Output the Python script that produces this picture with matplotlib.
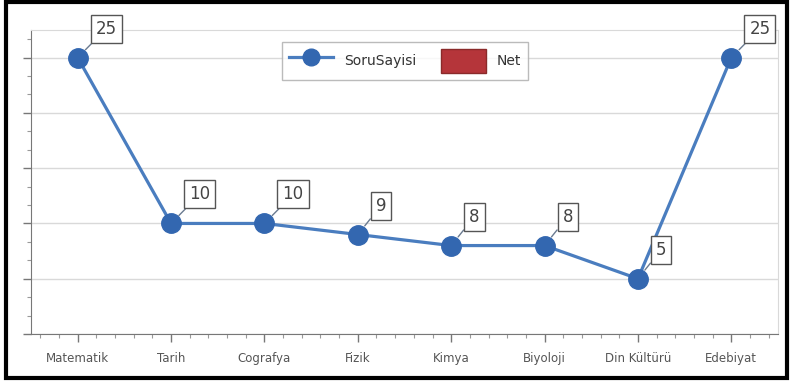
import matplotlib.pyplot as plt
from matplotlib.lines import Line2D
from matplotlib.patches import Patch, Rectangle
from matplotlib.ticker import MultipleLocator

# ders isimleri ve soru sayilari
dersler = ['Matematik', 'Tarih', 'Cografya', 'Fizik', 'Kimya', 'Biyoloji', 'Din Kültürü', 'Edebiyat']
soru_sayisi = [25, 10, 10, 9, 8, 8, 5, 25]

line_color = '#4a7dbf'
marker_color = '#3367b0'
net_color = '#b5353a'

fig = plt.figure(figsize=(7.9, 3.84), dpi=100)
ax = fig.add_axes([31 / 790, 1 - 334 / 384, (778 - 31) / 790, (334 - 30) / 384])

x = list(range(len(dersler)))
ax.plot(x, soru_sayisi, color=line_color, linewidth=2.3, marker='o',
        markersize=14, markerfacecolor=marker_color, markeredgecolor=marker_color, zorder=3)

# deger etiketleri (kutulu)
for i, v in enumerate(soru_sayisi):
    ax.annotate(str(v), xy=(i, v), xytext=(18, 29), textcoords='offset pixels',
                ha='left', va='center', fontsize=12, color='#444444',
                bbox=dict(boxstyle='square,pad=0.3', facecolor='white', edgecolor='#555555', linewidth=1),
                arrowprops=dict(arrowstyle='-', color='#6a7a90', linewidth=1, shrinkA=0, shrinkB=8),
                zorder=4)

ax.set_xlim(-0.5, len(dersler) - 0.5)
ax.set_ylim(0, 27.5)
ax.set_xticks(x)
ax.set_xticklabels(dersler, fontsize=8.5, color='#555555')
ax.xaxis.set_minor_locator(MultipleLocator(0.2))
ax.yaxis.set_major_locator(MultipleLocator(5))
ax.yaxis.set_minor_locator(MultipleLocator(5 / 3))
ax.set_yticklabels([])
ax.tick_params(axis='both', which='major', length=6, color='#777777', width=1)
ax.tick_params(axis='both', which='minor', length=3, color='#999999', width=0.8)
ax.tick_params(axis='x', pad=7)
ax.grid(True, axis='y', color='#d9d9d9', linewidth=1)
ax.set_axisbelow(True)

for s in ['left', 'bottom']:
    ax.spines[s].set_color('#777777')
for s in ['top', 'right']:
    ax.spines[s].set_color('#d9d9d9')

handles = [
    Line2D([0], [0], color=line_color, linewidth=2.3, marker='o', markersize=12,
           markerfacecolor=marker_color, markeredgecolor=marker_color),
    Patch(facecolor=net_color, edgecolor='#8a2a2a'),
]
leg = fig.legend(handles, ['SoruSayisi', 'Net'], loc='center', bbox_to_anchor=(405 / 790, 1 - 61 / 384),
                 ncol=2, fontsize=10, frameon=True, fancybox=False, handlelength=3.2,
                 handleheight=2.2, columnspacing=1.8, borderpad=0.5, handletextpad=0.8,
                 labelcolor='#333333')
leg.get_frame().set_edgecolor('#aaaaaa')
leg.get_frame().set_linewidth(1)

# dis siyah cerceve
fig.patches.append(Rectangle((6 / 790, 6 / 384), 781 / 790, 376 / 384, transform=fig.transFigure,
                             fill=False, edgecolor='black', linewidth=3))

fig.savefig('out.png', dpi=100)
plt.close()
